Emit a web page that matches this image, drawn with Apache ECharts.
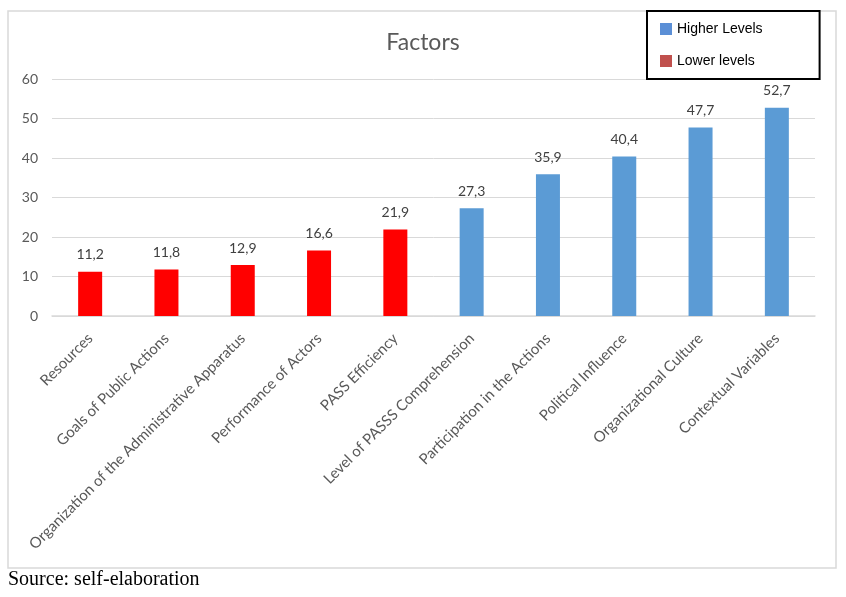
<!DOCTYPE html>
<html>
<head>
<meta charset="utf-8">
<script src="https://cdn.jsdelivr.net/npm/echarts@6/dist/echarts.min.js"></script>
<style>
html,body{margin:0;padding:0;background:#fff;}
#c{width:846px;height:597px;}
</style>
</head>
<body>
<div id="c"></div>
<script>
const categories = ["Resources","Goals of Public Actions","Organization of the Administrative Apparatus","Performance of Actors","PASS Efficiency","Level of PASSS Comprehension","Participation in the Actions","Political Influence","Organizational Culture","Contextual Variables"];
const lowerValues = [11.2, 11.8, 12.9, 16.6, 21.9, null, null, null, null, null];
const higherValues = [null, null, null, null, null, 27.3, 35.9, 40.4, 47.7, 52.7];
const yTicks = [0, 10, 20, 30, 40, 50, 60];

const chart = echarts.init(document.getElementById('c'), null, {renderer: 'canvas'});
const labelFmt = p => (p.value == null ? '' : String(p.value.toFixed(1)).replace('.', ','));
const font = 'Lato, "Open Sans", sans-serif';
chart.setOption({
  animation: false,
  backgroundColor: '#fff',
  title: {
    text: 'Factors', left: 'center', top: 26,
    textStyle: {fontFamily: font, fontSize: 23, fontWeight: 'normal', color: '#595959'}
  },
  legend: {
    orient: 'vertical', left: 647, top: 11,
    padding: [11, 57, 11, 13],
    itemWidth: 12, itemHeight: 12, itemGap: 18,
    borderColor: '#000', borderWidth: 2, backgroundColor: '#fff',
    textStyle: {fontFamily: 'Arial, "Liberation Sans", sans-serif', fontSize: 14, color: '#000'},
    data: [
      {name: 'Higher Levels', icon: 'rect', itemStyle: {color: '#5B8FD6'}},
      {name: 'Lower levels', icon: 'rect', itemStyle: {color: '#C0504D'}}
    ]
  },
  grid: {left: 52, right: 31, top: 79, bottom: 281, containLabel: false},
  xAxis: {
    type: 'category', data: categories,
    axisLine: {lineStyle: {color: '#d9d9d9', width: 1.5}},
    axisTick: {show: false},
    axisLabel: {rotate: 45, interval: 0, margin: 20, fontFamily: font, fontSize: 15, color: '#595959'}
  },
  yAxis: {
    type: 'value', min: yTicks[0], max: yTicks[yTicks.length - 1], interval: 10,
    axisLine: {show: false}, axisTick: {show: false},
    splitLine: {lineStyle: {color: '#d9d9d9', width: 1}},
    axisLabel: {margin: 14, fontFamily: font, fontSize: 14, color: '#595959'}
  },
  series: [
    {
      name: 'Lower levels', type: 'bar', stack: 'a', data: lowerValues, barWidth: 24,
      itemStyle: {color: '#FF0000'},
      label: {show: true, position: 'top', distance: 10, formatter: labelFmt, fontFamily: font, fontSize: 14, color: '#404040'}
    },
    {
      name: 'Higher Levels', type: 'bar', stack: 'a', data: higherValues, barWidth: 24,
      itemStyle: {color: '#5B9BD5'},
      label: {show: true, position: 'top', distance: 10, formatter: labelFmt, fontFamily: font, fontSize: 14, color: '#404040'}
    }
  ],
  graphic: [
    {type: 'rect', z: -10, shape: {x: 8, y: 11, width: 828, height: 557}, style: {fill: '#fff', stroke: '#d9d9d9', lineWidth: 1.5}},
    {type: 'text', left: 8, top: 570, style: {text: 'Source: self-elaboration', font: '20px "Liberation Serif", "Times New Roman", serif', fill: '#000'}}
  ]
});
</script>
</body>
</html>
